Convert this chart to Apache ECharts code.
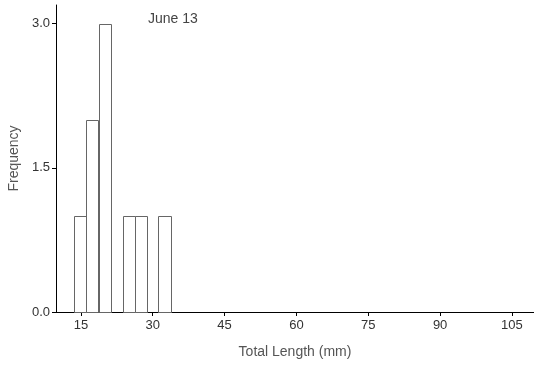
<!DOCTYPE html>
<html><head><meta charset="utf-8">
<script src="https://cdn.jsdelivr.net/npm/echarts@6/dist/echarts.min.js"></script>
<style>html,body{margin:0;padding:0;background:#fff}#c{width:534px;height:367px}</style>
</head><body><div id="c"></div>
<script>
// Histogram bins (mm) and counts
const binStarts = [13.6, 16.1, 18.7, 23.7, 26.2, 31.2];
const binWidth = 2.53;
const counts = [1, 2, 3, 1, 1, 1];
const xTicks = [15, 30, 45, 60, 75, 90, 105];
const yTicks = [0, 1.5, 3.0];
const title = 'June 13';

const data = binStarts.map((s, i) => [s, s + binWidth, counts[i]]);
const chart = echarts.init(document.getElementById('c'));
const font = 'Liberation Sans, Arial, sans-serif';
chart.setOption({
  animation: false,
  grid: {left: 56, right: 0, top: 5, bottom: 55, containLabel: false, outerBoundsMode: 'none'},
  xAxis: {
    type: 'value', min: 9.8, max: 109.6,
    name: 'Total Length (mm)', nameLocation: 'middle', nameGap: 33,
    nameTextStyle: {color: '#555', fontSize: 14, fontFamily: font},
    splitLine: {show: false},
    axisLine: {show: true, lineStyle: {color: '#000', width: 1}},
    axisTick: {show: true, length: 4, lineStyle: {color: '#000'}, customValues: xTicks},
    axisLabel: {color: '#333', fontSize: 13, fontFamily: font, margin: 7, customValues: xTicks}
  },
  yAxis: {
    type: 'value', min: 0, max: 3.195,
    name: 'Frequency', nameLocation: 'middle', nameGap: 34, nameRotate: 90,
    nameTextStyle: {color: '#555', fontSize: 14, fontFamily: font},
    splitLine: {show: false},
    axisLine: {show: true, lineStyle: {color: '#000', width: 1}},
    axisTick: {show: true, length: 4, lineStyle: {color: '#000'}, customValues: yTicks},
    axisLabel: {color: '#333', fontSize: 13, fontFamily: font, margin: 6,
      customValues: yTicks, formatter: v => v.toFixed(1)}
  },
  graphic: [{type: 'text', left: 148, top: 12,
    style: {text: title, fill: '#444', font: '14px ' + font}}],
  series: [{
    type: 'custom',
    data: data,
    encode: {x: [0, 1], y: 2},
    renderItem: function (params, api) {
      const p0 = api.coord([api.value(0), 0]);
      const p1 = api.coord([api.value(1), api.value(2)]);
      return {type: 'rect',
        shape: {x: Math.round(p0[0]) + 0.5, y: Math.round(p1[1]) + 0.5,
                width: Math.round(p1[0]) - Math.round(p0[0]), height: Math.round(p0[1]) - Math.round(p1[1])},
        style: {fill: '#fff', stroke: '#666', lineWidth: 1}};
    }
  }]
});
</script></body></html>
